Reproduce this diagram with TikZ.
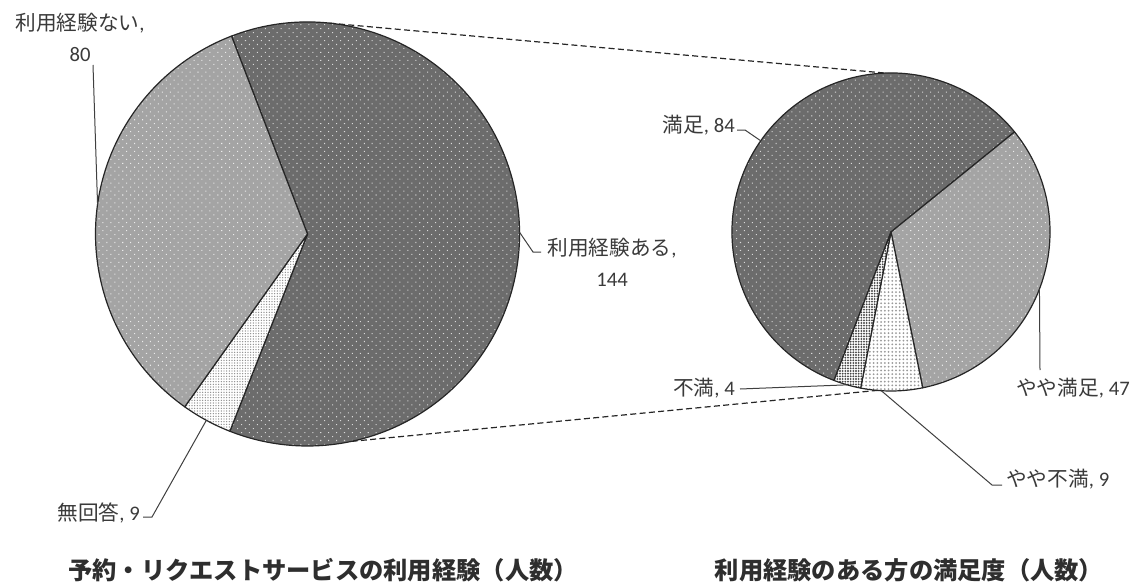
\documentclass[tikz,border=0pt]{standalone}
\usepackage{fontspec}
\setmainfont{Carlito}
\newfontfamily\cjk{Noto Sans CJK JP}
\usetikzlibrary{patterns.meta}
\newcommand\jtext[1]{{\cjk #1}}
\definecolor{dkbase}{HTML}{6C6C6C}
\definecolor{ltbase}{HTML}{A4A4A4}
\definecolor{edgecol}{HTML}{262626}
\definecolor{txtcol}{HTML}{3A3A3A}
\def\rL{159pt}
\def\rR{119.25pt}
\begin{document}
\begin{tikzpicture}[x=0.75pt,y=0.75pt,
  edge/.style={draw=edgecol, line width=0.9pt, line join=round},
  darkslice/.style={preaction={fill=dkbase}, pattern={Dots[distance=4.2pt,radius=0.55pt,angle=45]}, pattern color=white!85!black, edge},
  lightslice/.style={preaction={fill=ltbase}, pattern={Dots[distance=4.2pt,radius=0.55pt,angle=45]}, pattern color=white!92!black, edge},
  mkslice/.style={preaction={fill=white}, pattern={Dots[distance=2pt,radius=0.55pt]}, pattern color=black!45, edge},
  yyfslice/.style={preaction={fill=white}, pattern={Dots[distance=2.8pt,radius=0.75pt]}, pattern color=black!40, edge},
  fmslice/.style={preaction={fill=white}, pattern={Dots[distance=2pt,radius=0.8pt]}, pattern color=black!72, edge},
  lbl/.style={inner sep=0pt, text=txtcol, font=\fontsize{15.5}{23.25}\selectfont},
  ttl/.style={inner sep=0pt, text=black!82, font=\cjk\bfseries\fontsize{18.2}{22}\selectfont},
  lead/.style={draw=black!75, line width=0.75pt},
  dashline/.style={draw=black!85, line width=0.9pt, dash pattern=on 4.5pt off 2.5pt}]
\fill[white] (0,0) rectangle (1139,587);
\useasboundingbox (0,0) rectangle (1139,587);
% centres
\coordinate (L) at (307.5,353);
\coordinate (R) at (891,355);
% left pie
\path[darkslice] (L) -- ++(111:\rL) arc[start angle=111, end angle=-111.49, radius=\rL] -- cycle;
\path[mkslice] (L) -- ++(-111.49:\rL) arc[start angle=-111.49, end angle=-125.39, radius=\rL] -- cycle;
\path[lightslice] (L) -- ++(-125.39:\rL) arc[start angle=-125.39, end angle=-249, radius=\rL] -- cycle;
% right pie
\path[darkslice] (R) -- ++(249:\rR) arc[start angle=249, end angle=39, radius=\rR] -- cycle;
\path[lightslice] (R) -- ++(39:\rR) arc[start angle=39, end angle=-78.5, radius=\rR] -- cycle;
\path[yyfslice] (R) -- ++(-78.5:\rR) arc[start angle=-78.5, end angle=-101, radius=\rR] -- cycle;
\path[fmslice] (R) -- ++(-101:\rR) arc[start angle=-101, end angle=-111, radius=\rR] -- cycle;
% connector points
\coordinate (dt1) at ([shift={(84:\rL)}]L);
\coordinate (dt2) at ([shift={(92:\rR)}]R);
\coordinate (db1) at ([shift={(-78:\rL)}]L);
\coordinate (db2) at ([shift={(-95:\rR)}]R);
\draw[dashline] (dt1) -- (dt2);
\draw[dashline] (db1) -- (db2);
% labels
\node[lbl, align=center] (n80) at (80,549.5) {\jtext{利用経験ない},\\80};
\node[lbl, align=center] (n144) at (612,324.5) {\jtext{利用経験ある},\\144};
\node[lbl, anchor=east] (n84) at (735,462) {\jtext{満足}, 84};
\node[lbl] (n47) at (1073,199) {\jtext{やや満足}, 47};
\node[lbl, anchor=east] (n4) at (735,199) {\jtext{不満}, 4};
\node[lbl, anchor=west] (n9b) at (1006,108) {\jtext{やや不満}, 9};
\node[lbl, anchor=east] (n9a) at (140,74) {\jtext{無回答}, 9};
% leader points
\coordinate (p80) at ([shift={(172:\rL)}]L);
\coordinate (k80) at (93,522);
\coordinate (p144) at ([shift={(0.5:\rL)}]L);
\coordinate (k144) at (541,335);
\coordinate (p84) at ([shift={(145:\rR)}]R);
\coordinate (k84) at (737,457);
\coordinate (p47) at ([shift={(-21:\rR)}]R);
\coordinate (k47) at (1040,217);
\coordinate (p4) at ([shift={(-106:\rR)}]R);
\coordinate (k4) at (740,198);
\coordinate (p9b) at ([shift={(-93.5:\rR)}]R);
\coordinate (k9b) at (1002,102);
\coordinate (p9a) at ([shift={(-118.5:\rL)}]L);
\coordinate (k9a) at (143,70);
\draw[lead] (k80) -- (p80);
\draw[lead] (p144) -- (533,335) -- (k144);
\draw[lead] (k84) -- ++(8,0) -- (p84);
\draw[lead] (p47) -- (k47);
\draw[lead] (k4) -- (p4);
\draw[lead] (p9b) -- (992,102) -- (k9b);
\draw[lead] (k9a) -- (152,70) -- (p9a);
% titles
\node[ttl] (t1) at (323,17) {予約・リクエストサービスの利用経験（人数）};
\node[ttl] (t2) at (909,17) {利用経験のある方の満足度（人数）};
\end{tikzpicture}
\end{document}
